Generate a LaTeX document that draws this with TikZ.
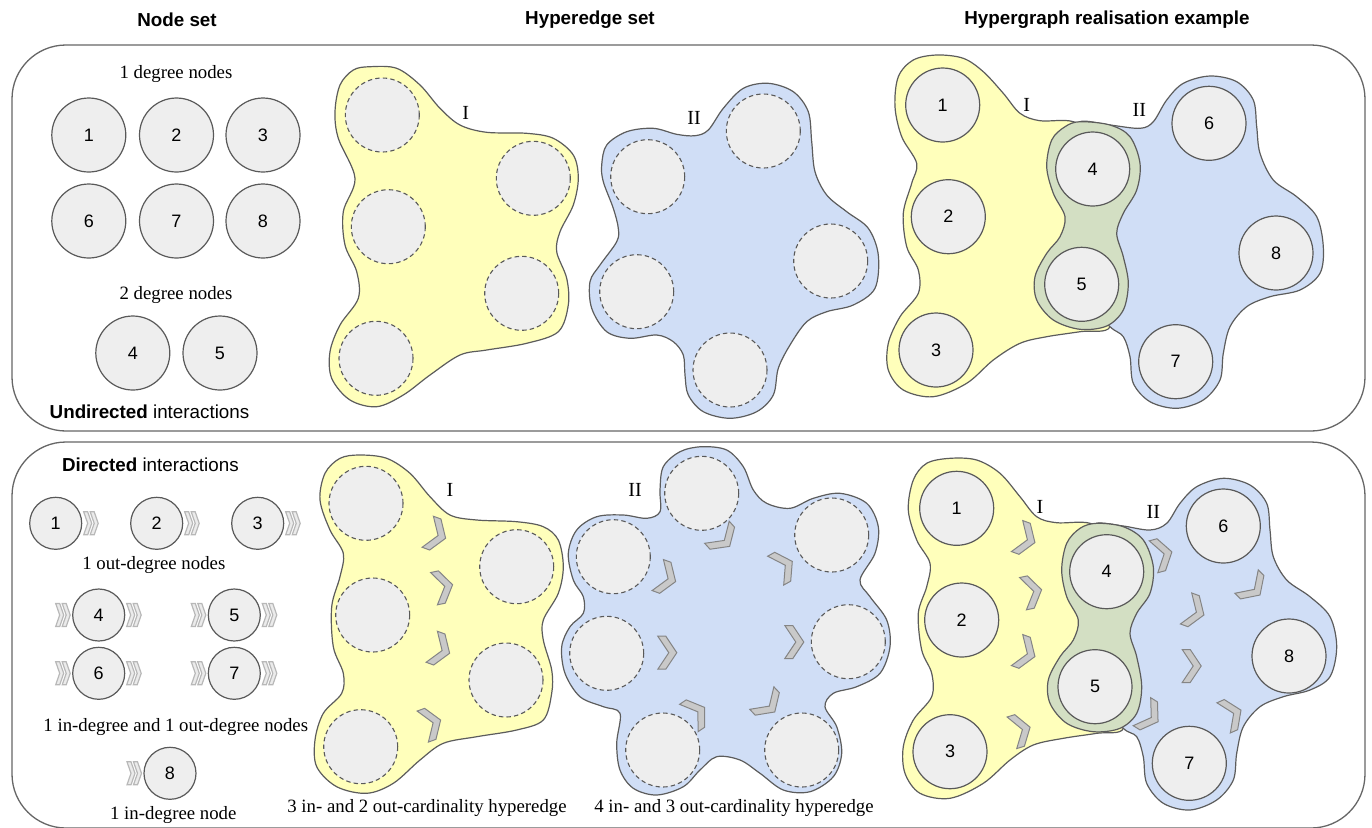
\documentclass[tikz,border=0pt]{standalone}
\usepackage{fontspec}
\setmainfont{Liberation Serif}
\setsansfont{Liberation Sans}
\begin{document}
\begin{tikzpicture}[x=0.5pt,y=-0.5pt]
\definecolor{edgeY}{HTML}{FFFFBB}
\definecolor{edgeB}{HTML}{D0DEF6}
\definecolor{edgeG}{HTML}{D3DFC3}
\definecolor{outl}{HTML}{5C5C5C}
\definecolor{nodefill}{HTML}{EEEEEE}
\definecolor{nodeline}{HTML}{595959}
\definecolor{panelline}{HTML}{666666}
\definecolor{chevfill}{HTML}{C9C9C9}
\definecolor{chevline}{HTML}{858585}
\definecolor{markfill}{HTML}{EBEBEB}
\definecolor{markline}{HTML}{B8B8B8}
\tikzset{
  panel/.style={draw=panelline, line width=0.65pt, rounded corners=27pt},
  vert/.style={circle, draw=nodeline, fill=nodefill, line width=0.6pt, minimum size=37pt, inner sep=0pt, font=\sffamily\fontsize{9}{10}\selectfont},
  smallvert/.style={vert, minimum size=26pt},
  slot/.style={circle, draw=nodeline, fill=nodefill, line width=0.55pt, dash pattern=on 2.2pt off 1.6pt, minimum size=37pt, inner sep=0pt},
  head/.style={font=\sffamily\bfseries\fontsize{9.4}{11}\selectfont},
  captext/.style={font=\rmfamily\fontsize{9.4}{11}\selectfont, inner sep=0pt},
  side/.style={font=\sffamily\fontsize{9.4}{11}\selectfont, inner sep=0pt},
  numeral/.style={font=\rmfamily\fontsize{10}{12}\selectfont, inner sep=0pt},
  blob/.style={draw=outl, line width=0.6pt},
  arrowchev/.pic={\draw[fill=chevfill, draw=chevline, line width=0.5pt, line join=miter]
    (-9.5,-16.5) -- (-1.5,-16.5) -- (9.5,0) -- (-1.5,16.5) -- (-9.5,16.5) -- (1.5,0) -- cycle;},
  flowmark/.pic={\draw[fill=markfill, draw=markline, line width=0.6pt, line join=miter]
    (0,-11.5) -- (4,-11.5) -- (8,0) -- (4,11.5) -- (0,11.5) -- (4,0) -- cycle
    (6.5,-11.5) -- (10.5,-11.5) -- (14.5,0) -- (10.5,11.5) -- (6.5,11.5) -- (10.5,0) -- cycle;}
}
\useasboundingbox (0,0) rectangle (1372,827);
\clip (0,0) rectangle (1372,827);

% column headings
\node[head] (hNodes) at (177,20) {Node set};
\node[head] (hEdges) at (590,20) {Hyperedge set};
\node[head] (hReal) at (1107,20) {Hypergraph realisation example};

% the two panels
\draw[panel] (12,45) rectangle (1365,431);
\draw[panel] (12,442) rectangle (1365,828);

% ---------------- undirected: node set ----------------
\node[captext] (uDeg1) at (176,74) {1 degree nodes};
\node[vert] (u1) at (88.8,135) {1};
\node[vert] (u2) at (176.5,135) {2};
\node[vert] (u3) at (263,135) {3};
\node[vert] (u6) at (88.8,221) {6};
\node[vert] (u7) at (176.5,221) {7};
\node[vert] (u8) at (263,221) {8};
\node[captext] (uDeg2) at (176,295) {2 degree nodes};
\node[vert] (u4) at (132.8,353) {4};
\node[vert] (u5) at (220,353) {5};
\node[side, anchor=west] (uTitle) at (49.3,411.7) {\textbf{Undirected} interactions};

% ---------------- undirected: hyperedge set ----------------
\draw[blob, fill=edgeY] plot[smooth cycle, tension=0.55] coordinates {
 (370,66.7) (396.7,68.3) (420,85) (440,108.3) (460,125) (486.7,132.3) (526.7,133.3)
 (553.3,138.3) (573.3,155) (578.3,178.3) (573.3,205) (560,231.7) (556.7,251.7)
 (566.7,278.3) (568.3,305) (558.3,331.7) (526.7,343.3) (486.7,350) (460,355)
 (430,375) (403.3,395) (376.7,406.7) (350,400) (331.7,378.3) (330,351.7) (340,325)
 (358.3,298.3) (356.7,271.7) (345,245) (343.3,211.7) (355,178.3) (338.3,138.3)
 (335,111.7) (340,85) (353.3,70)};
\node[slot] (uI1) at (382.3,115) {};
\node[slot] (uI2) at (388.3,226.7) {};
\node[slot] (uI3) at (376,358.3) {};
\node[slot] (uI4) at (533.3,178.3) {};
\node[slot] (uI5) at (521.7,293.3) {};
\node[numeral] (uIlab) at (465.7,113.3) {I};

\draw[blob, fill=edgeB] plot[smooth cycle, tension=0.55] coordinates {
 (601.7,165) (606.7,145) (626.7,131.7) (653.3,128.3) (676.7,134.3) (695,135.7)
 (708.3,130) (723.3,108.3) (743.3,88.3) (768.3,83.3) (793.3,91.7) (808.3,111.7)
 (811.7,141.7) (815,171.7) (826.7,195) (846.7,211.7) (868.3,228.3) (878.3,255)
 (875,288.3) (853.3,305) (826.7,311.7) (806.7,321.7) (790,345) (778.3,368.3)
 (773.3,395) (756.7,411.7) (730,418.3) (703.3,411.7) (688.3,395) (685,375)
 (683.3,355) (673.3,341.7) (656.7,335) (630,338.3) (606.7,331.7) (591.7,308.3)
 (590,281.7) (600,265) (616.7,241.7) (618.3,228.3) (613.3,208.3) (603.3,181.7)};
\node[slot] (uII1) at (647.7,176.7) {};
\node[slot] (uII2) at (763.3,131) {};
\node[slot] (uII3) at (830.7,261) {};
\node[slot] (uII4) at (636.7,291.7) {};
\node[slot] (uII5) at (730,370) {};
\node[numeral] (uIIlab) at (694,117.7) {II};

% ---------------- undirected: realisation ----------------
\draw[blob, fill=edgeY] plot[smooth cycle, tension=0.55] coordinates {
 (936.7,55) (963.3,58.3) (983.3,71.7) (1003.3,93.3) (1020,113.3) (1040,120.7)
 (1073.3,121.7) (1100,140) (1098,190) (1090,235) (1098,285) (1110,326.7)
 (1080,331.7) (1046.7,336.7) (1020,343.3) (993.3,360) (966.7,383.3) (933.3,396.7)
 (903.3,390) (888.3,370) (888.3,343.3) (900,316.7) (918.3,293.3) (918.3,270)
 (906.7,246.7) (903.3,213.3) (911.7,183.3) (916.7,163.3) (901.7,136.7) (895,106.7)
 (898.3,76.7) (913.3,60)};
\draw[blob, fill=edgeB] plot[smooth cycle, tension=0.55] coordinates {
 (1080,121.7) (1110,125) (1140,128.3) (1153.3,121.7) (1166.7,100) (1183.3,83.3)
 (1210,76) (1236.7,81.7) (1253.3,100) (1256.7,126.7) (1260,153.3) (1273.3,180)
 (1296.7,196.7) (1316.7,216.7) (1323.3,246.7) (1320,273.3) (1300,290) (1270,296.7)
 (1246.7,306.7) (1230,326.7) (1223.3,353.3) (1220,380) (1203.3,400) (1176.7,408.3)
 (1150,401.7) (1133.3,383.3) (1130,356.7) (1123.3,336.7) (1110,326.7) (1085,300)
 (1080,240) (1085,180) (1082,140)};
\draw[blob, fill=edgeG] plot[smooth cycle, tension=0.55] coordinates {
 (1080,121.7) (1110,125) (1130,136.7) (1140,163.3) (1136.7,190) (1123.3,213.3)
 (1116.7,233.3) (1123.3,256.7) (1128.3,283.3) (1123.3,310) (1106.7,326) (1080,329.3)
 (1053.3,320) (1036.7,300) (1035,276.7) (1046.7,253.3) (1060,236.7) (1065,216.7)
 (1053.3,193.3) (1046.7,166.7) (1051.7,140) (1065,126.7)};
\node[vert] (r1) at (942.7,105) {1};
\node[vert] (r2) at (948.3,216.7) {2};
\node[vert] (r3) at (936,350) {3};
\node[vert] (r4) at (1092.7,169) {4};
\node[vert] (r5) at (1081.7,284.3) {5};
\node[vert] (r6) at (1209,123.3) {6};
\node[vert] (r7) at (1175.7,361.7) {7};
\node[vert] (r8) at (1276,253) {8};
\node[numeral] (rIlab) at (1026.7,105) {I};
\node[numeral] (rIIlab) at (1139.3,110) {II};

% ---------------- directed: node set ----------------
\node[side, anchor=west] (dTitle) at (61.7,465) {\textbf{Directed} interactions};
\node[smallvert] (d1) at (55.7,523.3) {1};
\node[smallvert] (d2) at (156.7,523.3) {2};
\node[smallvert] (d3) at (257.7,523.3) {3};
\pic at (83.7,523.3) {flowmark};
\pic at (184.7,523.3) {flowmark};
\pic at (285.7,523.3) {flowmark};
\node[captext] (dOut) at (153.8,565) {1 out-degree nodes};
\node[smallvert] (d4) at (98.7,615) {4};
\node[smallvert] (d5) at (234.3,615) {5};
\node[smallvert] (d6) at (98.7,673.3) {6};
\node[smallvert] (d7) at (234.3,673.3) {7};
\foreach \px/\py in {98.7/615, 234.3/615, 98.7/673.3, 234.3/673.3}{
  \pic at (\px-43,\py) {flowmark};
  \pic at (\px+28,\py) {flowmark};
}
\node[captext] (dInOut) at (175.8,726.7) {1 in-degree and 1 out-degree nodes};
\node[smallvert] (d8) at (170,773.3) {8};
\pic at (127,773.3) {flowmark};
\node[captext] (dIn) at (173.3,815) {1 in-degree node};

% ---------------- directed: hyperedge set ----------------
\draw[blob, fill=edgeY] plot[smooth cycle, tension=0.55] coordinates {
 (360,455) (386.7,458.3) (410,473.3) (430,496.7) (450,515) (476.7,520) (516.7,521.7)
 (543.3,526.7) (558.3,540) (563.3,566.7) (558.3,593.3) (543.3,620) (543.3,640)
 (551.7,670) (551.7,693.3) (543.3,720) (516.7,730) (476.7,736.7) (443.3,743.3)
 (420,760) (393.3,783.3) (366.7,793.3) (336.7,786.7) (316.7,766.7) (315,740)
 (323.3,713.3) (341.7,693.3) (343.3,673.3) (333.3,646.7) (331.7,606.7) (340,576.7)
 (343.3,553.3) (330,530) (320,500) (325,473.3) (340,458.3)};
\node[slot] (dI1) at (366,503.3) {};
\node[slot] (dI2) at (372.7,615) {};
\node[slot] (dI3) at (360.7,746.7) {};
\node[slot] (dI4) at (516.7,566.7) {};
\node[slot] (dI5) at (506,680) {};
\node[numeral] (dIlab) at (450,490) {I};
\pic[rotate=-20] at (436.7,535) {arrowchev};
\pic[rotate=12] at (443.3,586.7) {arrowchev};
\pic[rotate=-20] at (440.7,650) {arrowchev};
\pic[rotate=20] at (431.7,723.3) {arrowchev};
\node[captext] (dIcap) at (427,808) {3 in- and 2 out-cardinality hyperedge};

\draw[blob, fill=edgeB] plot[smooth cycle, tension=0.55] coordinates {
 (701.7,446.7) (726.7,450) (743.3,466.7) (753.3,490) (766.7,503.3) (790,508.3)
 (813.3,498.3) (840,493.3) (866.7,503.3) (878.3,526.7) (875,553.3) (860,580)
 (870,596.7) (886.7,620) (890,646.7) (880,673.3) (856.7,686.7) (833.3,693.3)
 (825,706.7) (836.7,726.7) (841.7,753.3) (833.3,776.7) (810,791.7) (783.3,790)
 (760,773.3) (740,760) (716.7,756.7) (700,770) (683.3,786.7) (656.7,795)
 (633.3,788.3) (620,770) (616.7,743.3) (620,713.3) (603.3,706.7) (580,696.7)
 (565,673.3) (561.7,646.7) (570,626.7) (583.3,613.3) (583.3,596.7) (573.3,580)
 (568.3,553.3) (576.7,530) (596.7,516.7) (623.3,515) (646.7,518.3) (660,511.7)
 (660,490) (663.3,466.7) (680,451.7)};
\node[slot] (dII1) at (701.7,493.3) {};
\node[slot] (dII2) at (613.3,556.7) {};
\node[slot] (dII3) at (831.7,535) {};
\node[slot] (dII4) at (606.7,653.3) {};
\node[slot] (dII5) at (848.3,641.7) {};
\node[slot] (dII6) at (662.7,750) {};
\node[slot] (dII7) at (801.7,750) {};
\node[numeral] (dIIlab) at (635,490) {II};
\pic[rotate=-20] at (666.7,578.3) {arrowchev};
\pic[rotate=-48] at (723.3,539.3) {arrowchev};
\pic[rotate=29] at (784,566) {arrowchev};
\pic at (794.3,642) {arrowchev};
\pic[rotate=-47] at (768.3,705) {arrowchev};
\pic[rotate=34] at (696.7,712.7) {arrowchev};
\pic at (667.3,652.7) {arrowchev};
\node[captext] (dIIcap) at (734,808) {4 in- and 3 out-cardinality hyperedge};

% ---------------- directed: realisation ----------------
\draw[blob, fill=edgeY] plot[smooth cycle, tension=0.55] coordinates {
 (950,458.3) (976.7,460) (1000,473.3) (1020,496.7) (1036.7,516.7) (1056.7,522.7)
 (1090,523.3) (1115,540) (1112,590) (1103,640) (1110,690) (1123.3,728.3)
 (1096.7,733.3) (1063.3,738.3) (1033.3,745) (1010,760) (983.3,783.3) (950,798.3)
 (920,793.3) (905,773.3) (903.3,746.7) (913.3,720) (931.7,696.7) (931.7,673.3)
 (921.7,650) (918.3,613.3) (926.7,586.7) (930,563.3) (916.7,540) (908.3,510)
 (913.3,480) (926.7,463.3)};
\draw[blob, fill=edgeB] plot[smooth cycle, tension=0.55] coordinates {
 (1096.7,523.3) (1123.3,526) (1150,530) (1166.7,523.3) (1180,503.3) (1196.7,486.7)
 (1223.3,478.3) (1250,485) (1266.7,503.3) (1270,530) (1273.3,556.7) (1286.7,580)
 (1310,596.7) (1330,616.7) (1336.7,646.7) (1330,676.7) (1310,690) (1283.3,696.7)
 (1260,706.7) (1243.3,726.7) (1236.7,753.3) (1233.3,780) (1216.7,800) (1190,810)
 (1163.3,803.3) (1146.7,783.3) (1143.3,756.7) (1136.7,736.7) (1123.3,728.3)
 (1100,700) (1092,640) (1095,580) (1093,535)};
\draw[blob, fill=edgeG] plot[smooth cycle, tension=0.55] coordinates {
 (1096.7,523.3) (1123.3,526.7) (1143.3,540) (1153.3,566.7) (1150,593.3) (1136.7,613.3)
 (1130,633.3) (1136.7,656.7) (1141.7,686.7) (1136.7,713.3) (1120,728.3) (1093.3,731.7)
 (1066.7,723.3) (1050,703.3) (1048.3,680) (1060,656.7) (1073.3,640) (1078.3,620)
 (1066.7,596.7) (1061.7,570) (1066.7,543.3) (1080,528.3)};
\node[vert] (s1) at (956.7,508.3) {1};
\node[vert] (s2) at (961.7,620) {2};
\node[vert] (s3) at (950,751.7) {3};
\node[vert] (s4) at (1106.7,571.7) {4};
\node[vert] (s5) at (1095,686.7) {5};
\node[vert] (s6) at (1223.3,526) {6};
\node[vert] (s7) at (1189.3,763.3) {7};
\node[vert] (s8) at (1289,656) {8};
\node[numeral] (sIlab) at (1040,506.7) {I};
\node[numeral] (sIIlab) at (1153.3,511.7) {II};
\pic[rotate=-20] at (1026,539.3) {arrowchev};
\pic[rotate=12] at (1032.3,591.7) {arrowchev};
\pic[rotate=-20] at (1026,653.3) {arrowchev};
\pic[rotate=17] at (1021,730) {arrowchev};
\pic[rotate=15] at (1162.7,554.3) {arrowchev};
\pic[rotate=-45] at (1253.3,588.3) {arrowchev};
\pic[rotate=-20] at (1195,611.7) {arrowchev};
\pic at (1191.7,666) {arrowchev};
\pic[rotate=24] at (1232.3,714) {arrowchev};
\pic[rotate=-32] at (1150,716.7) {arrowchev};
\end{tikzpicture}
\end{document}
